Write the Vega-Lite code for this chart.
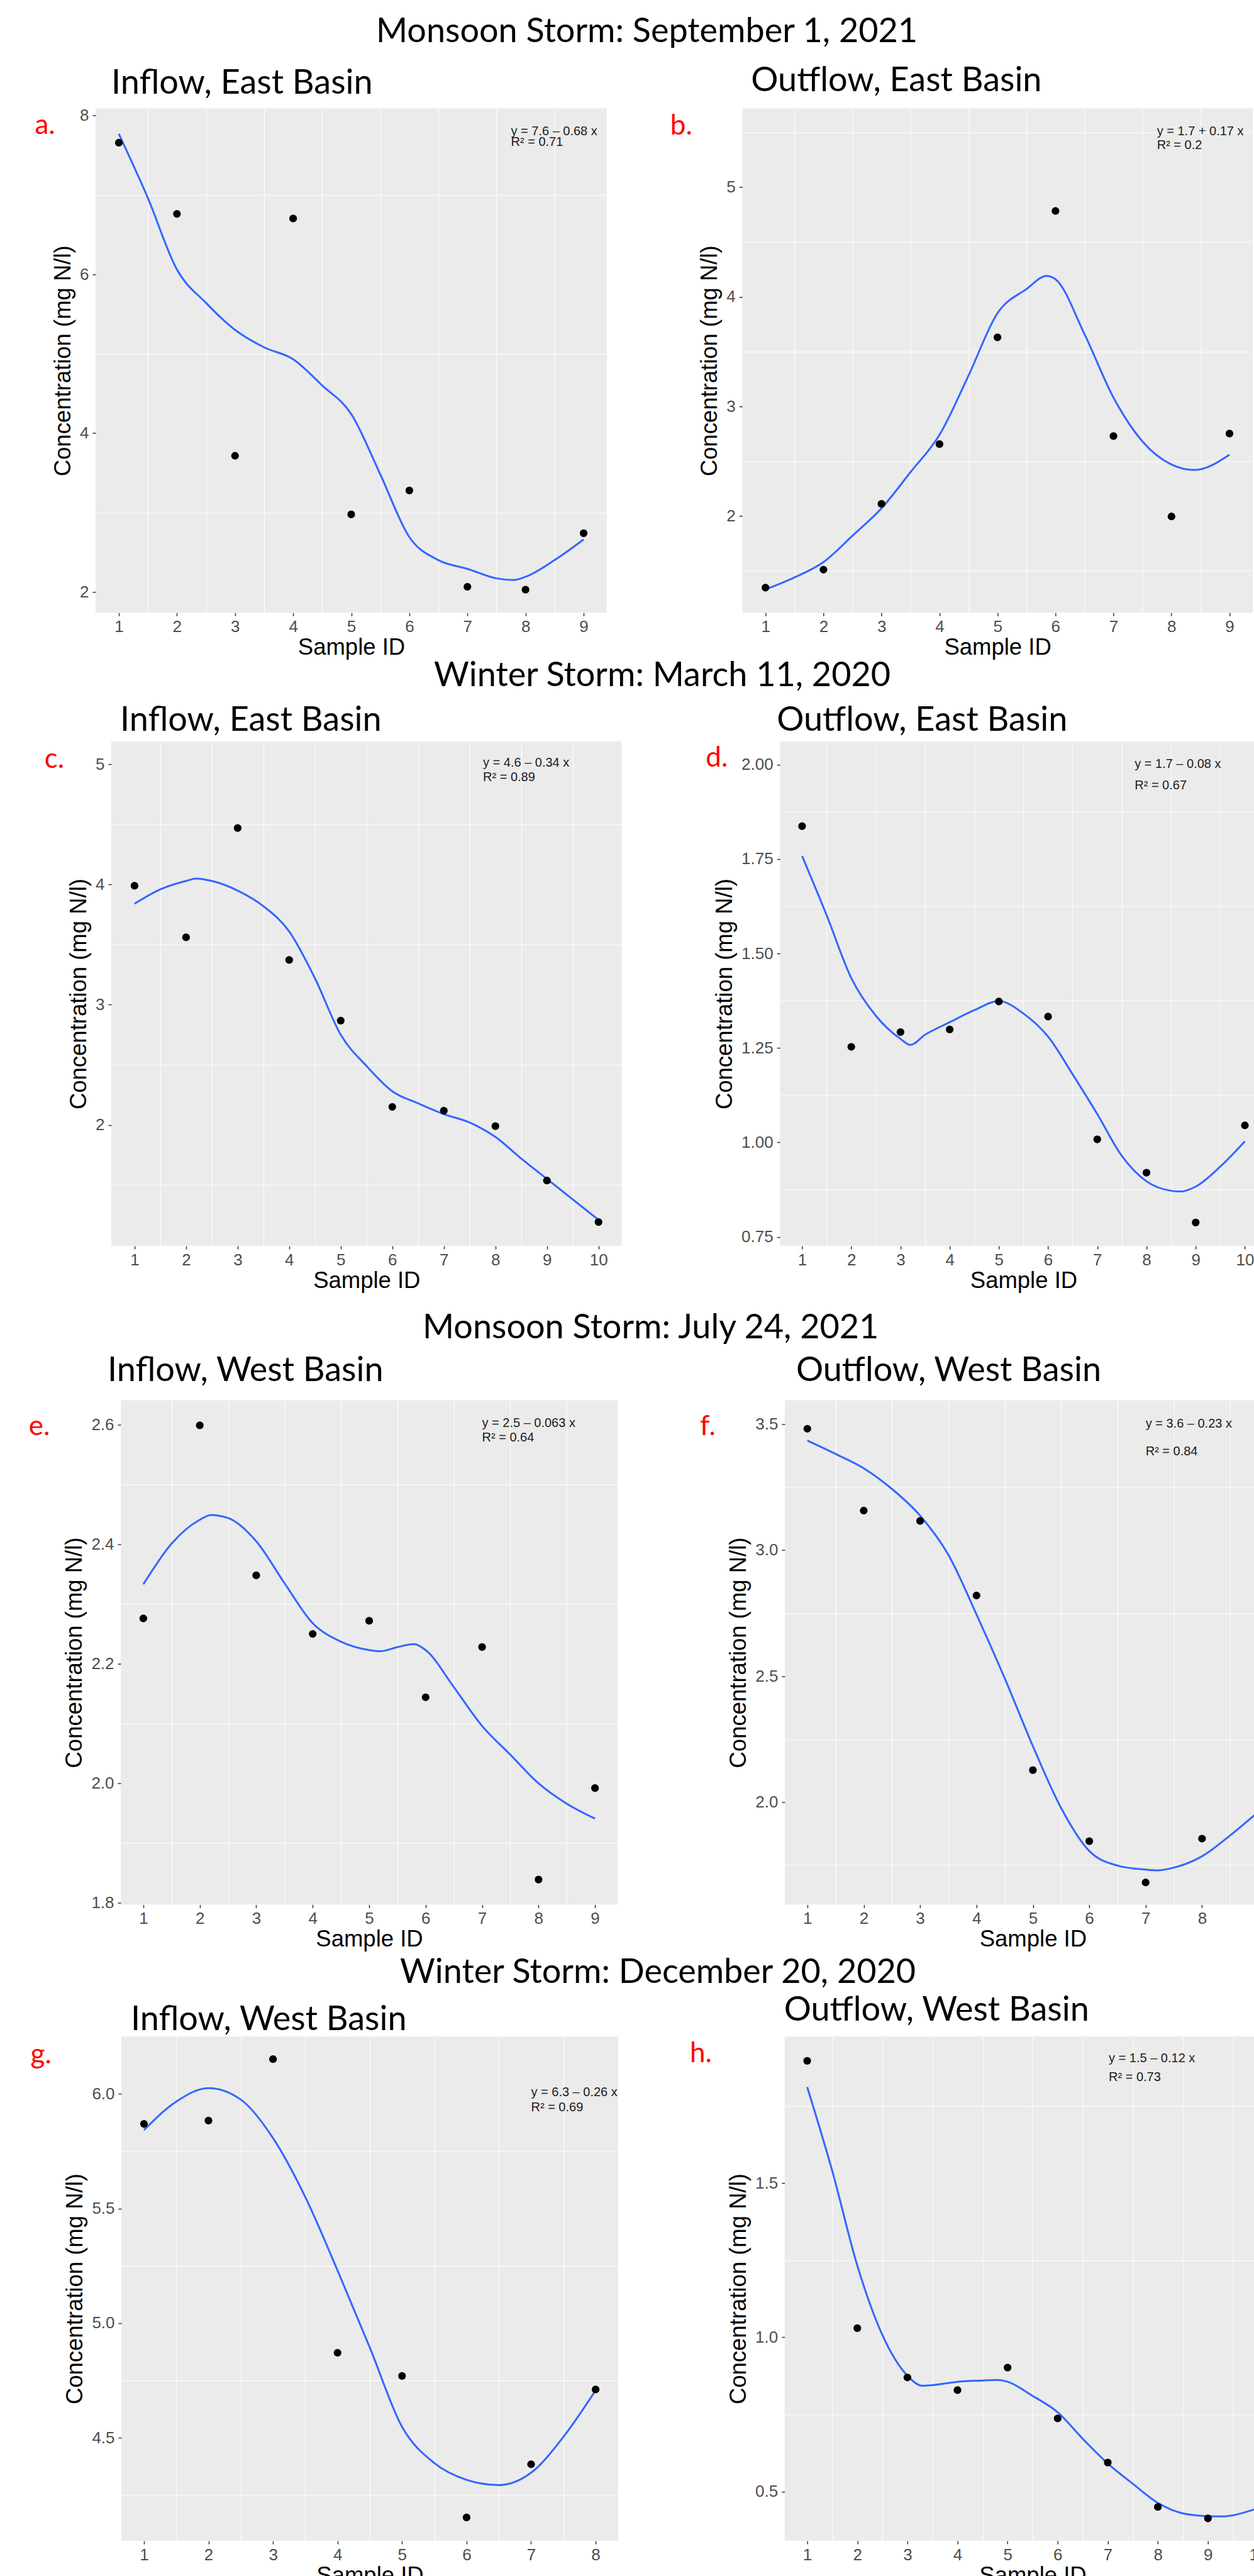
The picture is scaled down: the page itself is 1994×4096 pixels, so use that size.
{
"$schema": "https://vega.github.io/schema/vega-lite/v6.json",
"background": "white",
"padding": {"left": 0, "top": 23.3, "right": 0, "bottom": 0},
"config": {
  "view": {"fill": "#EBEBEB", "stroke": null},
  "axis": {"domain": false, "grid": true, "gridColor": "#FFFFFF", "gridWidth": 2, "tickColor": "#333333", "tickSize": 5, "tickWidth": 1.5, "labelFont": "Liberation Sans", "labelFontSize": 26, "labelColor": "#4D4D4D", "titleFont": "Liberation Sans", "titleFontSize": 36.5, "titleFontWeight": "normal", "titleColor": "#000000", "labelOverlap": false},
  "axisX": {"labelPadding": 4, "titlePadding": 2, "labelFlush": false},
  "axisY": {"labelPadding": 6, "titlePadding": 7},
  "title": {"font": "Lato", "fontSize": 54, "fontWeight": "normal", "color": "#000000"}
},
"datasets": {
  "pts": [
    {"p":"a","x":1,"y":7.657},{"p":"a","x":2,"y":6.761},{"p":"a","x":3,"y":3.714},{"p":"a","x":4,"y":6.703},{"p":"a","x":5,"y":2.976},{"p":"a","x":6,"y":3.277},{"p":"a","x":7,"y":2.064},{"p":"a","x":8,"y":2.027},{"p":"a","x":9,"y":2.739},
    {"p":"b","x":1,"y":1.347},{"p":"b","x":2,"y":1.511},{"p":"b","x":3,"y":2.111},{"p":"b","x":4,"y":2.656},{"p":"b","x":5,"y":3.630},{"p":"b","x":6,"y":4.782},{"p":"b","x":7,"y":2.729},{"p":"b","x":8,"y":1.996},{"p":"b","x":9,"y":2.752},
    {"p":"c","x":1,"y":3.990},{"p":"c","x":2,"y":3.561},{"p":"c","x":3,"y":4.470},{"p":"c","x":4,"y":3.373},{"p":"c","x":5,"y":2.868},{"p":"c","x":6,"y":2.150},{"p":"c","x":7,"y":2.118},{"p":"c","x":8,"y":1.990},{"p":"c","x":9,"y":1.537},{"p":"c","x":10,"y":1.192},
    {"p":"d","x":1,"y":1.837},{"p":"d","x":2,"y":1.253},{"p":"d","x":3,"y":1.292},{"p":"d","x":4,"y":1.299},{"p":"d","x":5,"y":1.373},{"p":"d","x":6,"y":1.333},{"p":"d","x":7,"y":1.008},{"p":"d","x":8,"y":0.920},{"p":"d","x":9,"y":0.788},{"p":"d","x":10,"y":1.045},
    {"p":"e","x":1,"y":2.276},{"p":"e","x":2,"y":2.599},{"p":"e","x":3,"y":2.348},{"p":"e","x":4,"y":2.250},{"p":"e","x":5,"y":2.272},{"p":"e","x":6,"y":2.144},{"p":"e","x":7,"y":2.228},{"p":"e","x":8,"y":1.839},{"p":"e","x":9,"y":1.992},
    {"p":"f","x":1,"y":3.482},{"p":"f","x":2,"y":3.157},{"p":"f","x":3,"y":3.116},{"p":"f","x":4,"y":2.820},{"p":"f","x":5,"y":2.127},{"p":"f","x":6,"y":1.845},{"p":"f","x":7,"y":1.681},{"p":"f","x":8,"y":1.855},{"p":"f","x":9,"y":1.940},
    {"p":"g","x":1,"y":5.869},{"p":"g","x":2,"y":5.883},{"p":"g","x":3,"y":6.151},{"p":"g","x":4,"y":4.871},{"p":"g","x":5,"y":4.770},{"p":"g","x":6,"y":4.153},{"p":"g","x":7,"y":4.385},{"p":"g","x":8,"y":4.711},
    {"p":"h","x":1,"y":1.897},{"p":"h","x":2,"y":1.030},{"p":"h","x":3,"y":0.870},{"p":"h","x":4,"y":0.829},{"p":"h","x":5,"y":0.902},{"p":"h","x":6,"y":0.737},{"p":"h","x":7,"y":0.594},{"p":"h","x":8,"y":0.450},{"p":"h","x":9,"y":0.413},{"p":"h","x":10,"y":0.447}
  ],
  "fit": [
    {"p":"a","x":1,"y":7.77},{"p":"a","x":1.5,"y":6.96},{"p":"a","x":2,"y":6.06},{"p":"a","x":2.5,"y":5.64},{"p":"a","x":3,"y":5.30},{"p":"a","x":3.5,"y":5.08},{"p":"a","x":4,"y":4.93},{"p":"a","x":4.5,"y":4.60},{"p":"a","x":5,"y":4.24},{"p":"a","x":5.5,"y":3.48},{"p":"a","x":6,"y":2.69},{"p":"a","x":6.5,"y":2.40},{"p":"a","x":7,"y":2.29},{"p":"a","x":7.5,"y":2.17},{"p":"a","x":7.8,"y":2.15},{"p":"a","x":8,"y":2.19},{"p":"a","x":8.5,"y":2.40},{"p":"a","x":9,"y":2.66},
    {"p":"b","x":1,"y":1.33},{"p":"b","x":1.5,"y":1.44},{"p":"b","x":2,"y":1.58},{"p":"b","x":2.5,"y":1.82},{"p":"b","x":3,"y":2.07},{"p":"b","x":3.5,"y":2.40},{"p":"b","x":4,"y":2.74},{"p":"b","x":4.5,"y":3.28},{"p":"b","x":5,"y":3.85},{"p":"b","x":5.5,"y":4.07},{"p":"b","x":5.85,"y":4.19},{"p":"b","x":6,"y":4.16},{"p":"b","x":6.5,"y":3.66},{"p":"b","x":7,"y":3.08},{"p":"b","x":7.5,"y":2.68},{"p":"b","x":8,"y":2.47},{"p":"b","x":8.4,"y":2.42},{"p":"b","x":9,"y":2.56},
    {"p":"c","x":1,"y":3.84},{"p":"c","x":1.5,"y":3.96},{"p":"c","x":2,"y":4.03},{"p":"c","x":2.2,"y":4.05},{"p":"c","x":2.5,"y":4.03},{"p":"c","x":3,"y":3.95},{"p":"c","x":3.5,"y":3.82},{"p":"c","x":4,"y":3.61},{"p":"c","x":4.5,"y":3.22},{"p":"c","x":5,"y":2.75},{"p":"c","x":5.5,"y":2.49},{"p":"c","x":6,"y":2.28},{"p":"c","x":6.5,"y":2.18},{"p":"c","x":7,"y":2.09},{"p":"c","x":7.5,"y":2.02},{"p":"c","x":8,"y":1.90},{"p":"c","x":8.5,"y":1.72},{"p":"c","x":9,"y":1.55},{"p":"c","x":9.5,"y":1.38},{"p":"c","x":10,"y":1.21},
    {"p":"d","x":1,"y":1.758},{"p":"d","x":1.5,"y":1.601},{"p":"d","x":2,"y":1.435},{"p":"d","x":2.5,"y":1.335},{"p":"d","x":3,"y":1.274},{"p":"d","x":3.2,"y":1.258},{"p":"d","x":3.5,"y":1.285},{"p":"d","x":4,"y":1.318},{"p":"d","x":4.5,"y":1.350},{"p":"d","x":5,"y":1.374},{"p":"d","x":5.5,"y":1.341},{"p":"d","x":6,"y":1.280},{"p":"d","x":6.5,"y":1.180},{"p":"d","x":7,"y":1.075},{"p":"d","x":7.5,"y":0.964},{"p":"d","x":8,"y":0.897},{"p":"d","x":8.5,"y":0.872},{"p":"d","x":8.7,"y":0.870},{"p":"d","x":9,"y":0.883},{"p":"d","x":9.5,"y":0.936},{"p":"d","x":10,"y":1.003},
    {"p":"e","x":1,"y":2.333},{"p":"e","x":1.5,"y":2.401},{"p":"e","x":2,"y":2.441},{"p":"e","x":2.2,"y":2.449},{"p":"e","x":2.5,"y":2.444},{"p":"e","x":3,"y":2.405},{"p":"e","x":3.5,"y":2.335},{"p":"e","x":4,"y":2.268},{"p":"e","x":4.5,"y":2.237},{"p":"e","x":5,"y":2.223},{"p":"e","x":5.2,"y":2.221},{"p":"e","x":5.5,"y":2.228},{"p":"e","x":5.8,"y":2.233},{"p":"e","x":6,"y":2.223},{"p":"e","x":6.5,"y":2.161},{"p":"e","x":7,"y":2.096},{"p":"e","x":7.5,"y":2.048},{"p":"e","x":8,"y":2.000},{"p":"e","x":8.5,"y":1.966},{"p":"e","x":9,"y":1.941},
    {"p":"f","x":1,"y":3.435},{"p":"f","x":1.5,"y":3.382},{"p":"f","x":2,"y":3.325},{"p":"f","x":2.5,"y":3.243},{"p":"f","x":3,"y":3.137},{"p":"f","x":3.5,"y":2.982},{"p":"f","x":4,"y":2.745},{"p":"f","x":4.5,"y":2.492},{"p":"f","x":5,"y":2.222},{"p":"f","x":5.5,"y":1.977},{"p":"f","x":6,"y":1.806},{"p":"f","x":6.5,"y":1.748},{"p":"f","x":7,"y":1.732},{"p":"f","x":7.2,"y":1.729},{"p":"f","x":7.5,"y":1.740},{"p":"f","x":8,"y":1.785},{"p":"f","x":8.5,"y":1.868},{"p":"f","x":9,"y":1.962},
    {"p":"g","x":1,"y":5.842},{"p":"g","x":1.5,"y":5.966},{"p":"g","x":2,"y":6.025},{"p":"g","x":2.5,"y":5.975},{"p":"g","x":3,"y":5.807},{"p":"g","x":3.5,"y":5.550},{"p":"g","x":4,"y":5.230},{"p":"g","x":4.5,"y":4.894},{"p":"g","x":5,"y":4.548},{"p":"g","x":5.5,"y":4.390},{"p":"g","x":6,"y":4.317},{"p":"g","x":6.5,"y":4.294},{"p":"g","x":7,"y":4.348},{"p":"g","x":7.5,"y":4.504},{"p":"g","x":8,"y":4.707},
    {"p":"h","x":1,"y":1.812},{"p":"h","x":1.5,"y":1.540},{"p":"h","x":2,"y":1.233},{"p":"h","x":2.5,"y":1.008},{"p":"h","x":3,"y":0.876},{"p":"h","x":3.3,"y":0.843},{"p":"h","x":3.5,"y":0.845},{"p":"h","x":4,"y":0.856},{"p":"h","x":4.5,"y":0.860},{"p":"h","x":4.8,"y":0.862},{"p":"h","x":5,"y":0.856},{"p":"h","x":5.5,"y":0.810},{"p":"h","x":6,"y":0.757},{"p":"h","x":6.5,"y":0.671},{"p":"h","x":7,"y":0.591},{"p":"h","x":7.5,"y":0.525},{"p":"h","x":8,"y":0.463},{"p":"h","x":8.5,"y":0.429},{"p":"h","x":9,"y":0.420},{"p":"h","x":9.3,"y":0.419},{"p":"h","x":9.5,"y":0.423},{"p":"h","x":10,"y":0.446}
  ],
  "eq": [
    {"p":"a","x":7.75,"y":7.80,"t":"y = 7.6 – 0.68 x"},{"p":"a","x":7.75,"y":7.668,"t":"R² = 0.71"},
    {"p":"b","x":7.75,"y":5.508,"t":"y = 1.7 + 0.17 x"},{"p":"b","x":7.75,"y":5.382,"t":"R² = 0.2"},
    {"p":"c","x":7.76,"y":5.01,"t":"y = 4.6 – 0.34 x"},{"p":"c","x":7.76,"y":4.89,"t":"R² = 0.89"},
    {"p":"d","x":7.76,"y":2.002,"t":"y = 1.7 – 0.08 x"},{"p":"d","x":7.76,"y":1.945,"t":"R² = 0.67"},
    {"p":"e","x":7.0,"y":2.603,"t":"y = 2.5 – 0.063 x"},{"p":"e","x":7.0,"y":2.578,"t":"R² = 0.64"},
    {"p":"f","x":7.0,"y":3.502,"t":"y = 3.6 – 0.23 x"},{"p":"f","x":7.0,"y":3.391,"t":"R² = 0.84"},
    {"p":"g","x":7.0,"y":6.007,"t":"y = 6.3 – 0.26 x"},{"p":"g","x":7.0,"y":5.940,"t":"R² = 0.69"},
    {"p":"h","x":7.02,"y":1.905,"t":"y = 1.5 – 0.12 x"},{"p":"h","x":7.02,"y":1.844,"t":"R² = 0.73"}
  ],
  "lab": [
    {"p":"a","x":-0.4456,"y":7.77,"t":"a."},
    {"p":"b","x":-0.6415,"y":5.477,"t":"b."},
    {"p":"c","x":-0.7454,"y":4.972,"t":"c."},
    {"p":"d","x":-0.957,"y":1.994,"t":"d."},
    {"p":"e","x":-1.0297,"y":2.583,"t":"e."},
    {"p":"f","x":-0.9046,"y":3.456,"t":"f."},
    {"p":"g","x":-0.7574,"y":6.131,"t":"g."},
    {"p":"h","x":-1.343,"y":1.892,"t":"h."}
  ]
},
"vconcat": [
 {"vconcat": [
  {"vconcat": [
   {"hconcat": [
    {"width": 54.1, "height": 10, "data": {"values": []}, "mark": "point", "view": {"fill": null, "stroke": null}},
    {"hconcat": [
    {"width": 813, "height": 802,
     "title": {"text": "Inflow, East Basin", "anchor": "start", "frame": "group", "dx": 25, "offset": 11},
     "resolve": {"axis": {"x": "independent", "y": "independent"}},
     "layer": [
      {"data": {"name": "fit"}, "transform": [{"filter": "datum.p == 'a'"}],
       "mark": {"type": "line", "color": "#3366FF", "strokeWidth": 3, "interpolate": "monotone"},
       "encoding": {
        "x": {"field": "x", "type": "quantitative", "scale": {"domain": [0.6, 9.4], "nice": false, "zero": false}, "axis": {"orient": "top", "values": [1.5,2.5,3.5,4.5,5.5,6.5,7.5,8.5], "title": null, "labels": false, "ticks": false, "domain": false, "gridWidth": 1, "minExtent": 0, "maxExtent": 0}},
        "y": {"field": "y", "type": "quantitative", "scale": {"domain": [1.737, 8.09], "nice": false, "zero": false}, "axis": {"orient": "right", "values": [3,5,7], "title": null, "labels": false, "ticks": false, "domain": false, "gridWidth": 1, "minExtent": 0, "maxExtent": 0}}}},
      {"data": {"name": "pts"}, "transform": [{"filter": "datum.p == 'a'"}],
       "mark": {"type": "circle", "size": 150, "color": "#000000", "opacity": 1},
       "encoding": {
        "x": {"field": "x", "type": "quantitative", "scale": {"domain": [0.6, 9.4], "nice": false, "zero": false}, "axis": {"orient": "bottom", "values": [1,2,3,4,5,6,7,8,9], "title": "Sample ID"}},
        "y": {"field": "y", "type": "quantitative", "scale": {"domain": [1.737, 8.09], "nice": false, "zero": false}, "axis": {"orient": "left", "values": [2,4,6,8], "title": "Concentration (mg N/l)"}}}},
      {"data": {"name": "eq"}, "transform": [{"filter": "datum.p == 'a'"}],
       "mark": {"type": "text", "align": "left", "baseline": "middle", "font": "Liberation Sans", "fontSize": 20, "color": "#1A1A1A"},
       "encoding": {
        "x": {"field": "x", "type": "quantitative", "scale": {"domain": [0.6, 9.4], "nice": false, "zero": false}, "axis": null},
        "y": {"field": "y", "type": "quantitative", "scale": {"domain": [1.737, 8.09], "nice": false, "zero": false}, "axis": null},
        "text": {"field": "t"}}},
      {"data": {"name": "lab"}, "transform": [{"filter": "datum.p == 'a'"}],
       "mark": {"type": "text", "align": "left", "baseline": "alphabetic", "font": "Lato", "fontSize": 44, "color": "#FF0000"},
       "encoding": {
        "x": {"field": "x", "type": "quantitative", "scale": {"domain": [0.6, 9.4], "nice": false, "zero": false}, "axis": null},
        "y": {"field": "y", "type": "quantitative", "scale": {"domain": [1.737, 8.09], "nice": false, "zero": false}, "axis": null},
        "text": {"field": "t"}}}
     ]},
    {"width": 811.6, "height": 802,
     "title": {"text": "Outflow, East Basin", "anchor": "start", "frame": "group", "dx": 14, "offset": 16.1},
     "resolve": {"axis": {"x": "independent", "y": "independent"}},
     "layer": [
      {"data": {"name": "fit"}, "transform": [{"filter": "datum.p == 'b'"}],
       "mark": {"type": "line", "color": "#3366FF", "strokeWidth": 3, "interpolate": "monotone"},
       "encoding": {
        "x": {"field": "x", "type": "quantitative", "scale": {"domain": [0.6, 9.4], "nice": false, "zero": false}, "axis": {"orient": "top", "values": [1.5,2.5,3.5,4.5,5.5,6.5,7.5,8.5], "title": null, "labels": false, "ticks": false, "domain": false, "gridWidth": 1, "minExtent": 0, "maxExtent": 0}},
        "y": {"field": "y", "type": "quantitative", "scale": {"domain": [1.118, 5.718], "nice": false, "zero": false}, "axis": {"orient": "right", "values": [1.5,2.5,3.5,4.5,5.5], "title": null, "labels": false, "ticks": false, "domain": false, "gridWidth": 1, "minExtent": 0, "maxExtent": 0}}}},
      {"data": {"name": "pts"}, "transform": [{"filter": "datum.p == 'b'"}],
       "mark": {"type": "circle", "size": 150, "color": "#000000", "opacity": 1},
       "encoding": {
        "x": {"field": "x", "type": "quantitative", "scale": {"domain": [0.6, 9.4], "nice": false, "zero": false}, "axis": {"orient": "bottom", "values": [1,2,3,4,5,6,7,8,9], "title": "Sample ID"}},
        "y": {"field": "y", "type": "quantitative", "scale": {"domain": [1.118, 5.718], "nice": false, "zero": false}, "axis": {"orient": "left", "values": [2,3,4,5], "title": "Concentration (mg N/l)"}}}},
      {"data": {"name": "eq"}, "transform": [{"filter": "datum.p == 'b'"}],
       "mark": {"type": "text", "align": "left", "baseline": "middle", "font": "Liberation Sans", "fontSize": 20, "color": "#1A1A1A"},
       "encoding": {
        "x": {"field": "x", "type": "quantitative", "scale": {"domain": [0.6, 9.4], "nice": false, "zero": false}, "axis": null},
        "y": {"field": "y", "type": "quantitative", "scale": {"domain": [1.118, 5.718], "nice": false, "zero": false}, "axis": null},
        "text": {"field": "t"}}},
      {"data": {"name": "lab"}, "transform": [{"filter": "datum.p == 'b'"}],
       "mark": {"type": "text", "align": "left", "baseline": "alphabetic", "font": "Lato", "fontSize": 44, "color": "#FF0000"},
       "encoding": {
        "x": {"field": "x", "type": "quantitative", "scale": {"domain": [0.6, 9.4], "nice": false, "zero": false}, "axis": null},
        "y": {"field": "y", "type": "quantitative", "scale": {"domain": [1.118, 5.718], "nice": false, "zero": false}, "axis": null},
        "text": {"field": "t"}}}
     ]}
    ], "spacing": 100.3, "bounds": "full"}
   ],
   "spacing": 0, "bounds": "full",
   "title": {"text": "Monsoon Storm: September 1, 2021", "anchor": "start", "frame": "group", "offset": 24.1, "dx": 598}},
   {"hconcat": [
    {"width": 70, "height": 10, "data": {"values": []}, "mark": "point", "view": {"fill": null, "stroke": null}},
    {"hconcat": [
    {"width": 811.6, "height": 802,
     "title": {"text": "Inflow, East Basin", "anchor": "start", "frame": "group", "dx": 14, "offset": 5.8},
     "resolve": {"axis": {"x": "independent", "y": "independent"}},
     "layer": [
      {"data": {"name": "fit"}, "transform": [{"filter": "datum.p == 'c'"}],
       "mark": {"type": "line", "color": "#3366FF", "strokeWidth": 3, "interpolate": "monotone"},
       "encoding": {
        "x": {"field": "x", "type": "quantitative", "scale": {"domain": [0.55, 10.45], "nice": false, "zero": false}, "axis": {"orient": "top", "values": [1.5,2.5,3.5,4.5,5.5,6.5,7.5,8.5,9.5], "title": null, "labels": false, "ticks": false, "domain": false, "gridWidth": 1, "minExtent": 0, "maxExtent": 0}},
        "y": {"field": "y", "type": "quantitative", "scale": {"domain": [0.993, 5.19], "nice": false, "zero": false}, "axis": {"orient": "right", "values": [1.5,2.5,3.5,4.5], "title": null, "labels": false, "ticks": false, "domain": false, "gridWidth": 1, "minExtent": 0, "maxExtent": 0}}}},
      {"data": {"name": "pts"}, "transform": [{"filter": "datum.p == 'c'"}],
       "mark": {"type": "circle", "size": 150, "color": "#000000", "opacity": 1},
       "encoding": {
        "x": {"field": "x", "type": "quantitative", "scale": {"domain": [0.55, 10.45], "nice": false, "zero": false}, "axis": {"orient": "bottom", "values": [1,2,3,4,5,6,7,8,9,10], "title": "Sample ID"}},
        "y": {"field": "y", "type": "quantitative", "scale": {"domain": [0.993, 5.19], "nice": false, "zero": false}, "axis": {"orient": "left", "values": [2,3,4,5], "title": "Concentration (mg N/l)"}}}},
      {"data": {"name": "eq"}, "transform": [{"filter": "datum.p == 'c'"}],
       "mark": {"type": "text", "align": "left", "baseline": "middle", "font": "Liberation Sans", "fontSize": 20, "color": "#1A1A1A"},
       "encoding": {
        "x": {"field": "x", "type": "quantitative", "scale": {"domain": [0.55, 10.45], "nice": false, "zero": false}, "axis": null},
        "y": {"field": "y", "type": "quantitative", "scale": {"domain": [0.993, 5.19], "nice": false, "zero": false}, "axis": null},
        "text": {"field": "t"}}},
      {"data": {"name": "lab"}, "transform": [{"filter": "datum.p == 'c'"}],
       "mark": {"type": "text", "align": "left", "baseline": "alphabetic", "font": "Lato", "fontSize": 44, "color": "#FF0000"},
       "encoding": {
        "x": {"field": "x", "type": "quantitative", "scale": {"domain": [0.55, 10.45], "nice": false, "zero": false}, "axis": null},
        "y": {"field": "y", "type": "quantitative", "scale": {"domain": [0.993, 5.19], "nice": false, "zero": false}, "axis": null},
        "text": {"field": "t"}}}
     ]},
    {"width": 774.5, "height": 802,
     "title": {"text": "Outflow, East Basin", "anchor": "start", "frame": "group", "dx": -5, "offset": 5.8},
     "resolve": {"axis": {"x": "independent", "y": "independent"}},
     "layer": [
      {"data": {"name": "fit"}, "transform": [{"filter": "datum.p == 'd'"}],
       "mark": {"type": "line", "color": "#3366FF", "strokeWidth": 3, "interpolate": "monotone"},
       "encoding": {
        "x": {"field": "x", "type": "quantitative", "scale": {"domain": [0.55, 10.45], "nice": false, "zero": false}, "axis": {"orient": "top", "values": [1.5,2.5,3.5,4.5,5.5,6.5,7.5,8.5,9.5], "title": null, "labels": false, "ticks": false, "domain": false, "gridWidth": 1, "minExtent": 0, "maxExtent": 0}},
        "y": {"field": "y", "type": "quantitative", "scale": {"domain": [0.726, 2.061], "nice": false, "zero": false}, "axis": {"orient": "right", "values": [0.875,1.125,1.375,1.625,1.875], "title": null, "labels": false, "ticks": false, "domain": false, "gridWidth": 1, "minExtent": 0, "maxExtent": 0}}}},
      {"data": {"name": "pts"}, "transform": [{"filter": "datum.p == 'd'"}],
       "mark": {"type": "circle", "size": 150, "color": "#000000", "opacity": 1},
       "encoding": {
        "x": {"field": "x", "type": "quantitative", "scale": {"domain": [0.55, 10.45], "nice": false, "zero": false}, "axis": {"orient": "bottom", "values": [1,2,3,4,5,6,7,8,9,10], "title": "Sample ID"}},
        "y": {"field": "y", "type": "quantitative", "scale": {"domain": [0.726, 2.061], "nice": false, "zero": false}, "axis": {"orient": "left", "values": [0.75,1,1.25,1.5,1.75,2], "format": ".2f", "title": "Concentration (mg N/l)"}}}},
      {"data": {"name": "eq"}, "transform": [{"filter": "datum.p == 'd'"}],
       "mark": {"type": "text", "align": "left", "baseline": "middle", "font": "Liberation Sans", "fontSize": 20, "color": "#1A1A1A"},
       "encoding": {
        "x": {"field": "x", "type": "quantitative", "scale": {"domain": [0.55, 10.45], "nice": false, "zero": false}, "axis": null},
        "y": {"field": "y", "type": "quantitative", "scale": {"domain": [0.726, 2.061], "nice": false, "zero": false}, "axis": null},
        "text": {"field": "t"}}},
      {"data": {"name": "lab"}, "transform": [{"filter": "datum.p == 'd'"}],
       "mark": {"type": "text", "align": "left", "baseline": "alphabetic", "font": "Lato", "fontSize": 44, "color": "#FF0000"},
       "encoding": {
        "x": {"field": "x", "type": "quantitative", "scale": {"domain": [0.55, 10.45], "nice": false, "zero": false}, "axis": null},
        "y": {"field": "y", "type": "quantitative", "scale": {"domain": [0.726, 2.061], "nice": false, "zero": false}, "axis": null},
        "text": {"field": "t"}}}
     ]}
    ], "spacing": 133.2, "bounds": "full"}
   ],
   "spacing": 0, "bounds": "full",
   "title": {"text": "Winter Storm: March 11, 2020", "anchor": "start", "frame": "group", "offset": 17.6, "dx": 690}}
  ], "spacing": -1.2},
  {"hconcat": [
   {"width": 44.5, "height": 10, "data": {"values": []}, "mark": "point", "view": {"fill": null, "stroke": null}},
   {"hconcat": [
    {"width": 790, "height": 802,
     "title": {"text": "Inflow, West Basin", "anchor": "start", "frame": "group", "dx": -21, "offset": 19.4},
     "resolve": {"axis": {"x": "independent", "y": "independent"}},
     "layer": [
      {"data": {"name": "fit"}, "transform": [{"filter": "datum.p == 'e'"}],
       "mark": {"type": "line", "color": "#3366FF", "strokeWidth": 3, "interpolate": "monotone"},
       "encoding": {
        "x": {"field": "x", "type": "quantitative", "scale": {"domain": [0.6, 9.4], "nice": false, "zero": false}, "axis": {"orient": "top", "values": [1.5,2.5,3.5,4.5,5.5,6.5,7.5,8.5], "title": null, "labels": false, "ticks": false, "domain": false, "gridWidth": 1, "minExtent": 0, "maxExtent": 0}},
        "y": {"field": "y", "type": "quantitative", "scale": {"domain": [1.797, 2.641], "nice": false, "zero": false}, "axis": {"orient": "right", "values": [1.9,2.1,2.3,2.5], "title": null, "labels": false, "ticks": false, "domain": false, "gridWidth": 1, "minExtent": 0, "maxExtent": 0}}}},
      {"data": {"name": "pts"}, "transform": [{"filter": "datum.p == 'e'"}],
       "mark": {"type": "circle", "size": 150, "color": "#000000", "opacity": 1},
       "encoding": {
        "x": {"field": "x", "type": "quantitative", "scale": {"domain": [0.6, 9.4], "nice": false, "zero": false}, "axis": {"orient": "bottom", "values": [1,2,3,4,5,6,7,8,9], "title": "Sample ID"}},
        "y": {"field": "y", "type": "quantitative", "scale": {"domain": [1.797, 2.641], "nice": false, "zero": false}, "axis": {"orient": "left", "values": [1.8,2.0,2.2,2.4,2.6], "format": ".1f", "title": "Concentration (mg N/l)"}}}},
      {"data": {"name": "eq"}, "transform": [{"filter": "datum.p == 'e'"}],
       "mark": {"type": "text", "align": "left", "baseline": "middle", "font": "Liberation Sans", "fontSize": 20, "color": "#1A1A1A"},
       "encoding": {
        "x": {"field": "x", "type": "quantitative", "scale": {"domain": [0.6, 9.4], "nice": false, "zero": false}, "axis": null},
        "y": {"field": "y", "type": "quantitative", "scale": {"domain": [1.797, 2.641], "nice": false, "zero": false}, "axis": null},
        "text": {"field": "t"}}},
      {"data": {"name": "lab"}, "transform": [{"filter": "datum.p == 'e'"}],
       "mark": {"type": "text", "align": "left", "baseline": "alphabetic", "font": "Lato", "fontSize": 44, "color": "#FF0000"},
       "encoding": {
        "x": {"field": "x", "type": "quantitative", "scale": {"domain": [0.6, 9.4], "nice": false, "zero": false}, "axis": null},
        "y": {"field": "y", "type": "quantitative", "scale": {"domain": [1.797, 2.641], "nice": false, "zero": false}, "axis": null},
        "text": {"field": "t"}}}
     ]},
    {"width": 789, "height": 802,
     "title": {"text": "Outflow, West Basin", "anchor": "start", "frame": "group", "dx": 18, "offset": 19.4},
     "resolve": {"axis": {"x": "independent", "y": "independent"}},
     "layer": [
      {"data": {"name": "fit"}, "transform": [{"filter": "datum.p == 'f'"}],
       "mark": {"type": "line", "color": "#3366FF", "strokeWidth": 3, "interpolate": "monotone"},
       "encoding": {
        "x": {"field": "x", "type": "quantitative", "scale": {"domain": [0.6, 9.4], "nice": false, "zero": false}, "axis": {"orient": "top", "values": [1.5,2.5,3.5,4.5,5.5,6.5,7.5,8.5], "title": null, "labels": false, "ticks": false, "domain": false, "gridWidth": 1, "minExtent": 0, "maxExtent": 0}},
        "y": {"field": "y", "type": "quantitative", "scale": {"domain": [1.593, 3.595], "nice": false, "zero": false}, "axis": {"orient": "right", "values": [1.75,2.25,2.75,3.25], "title": null, "labels": false, "ticks": false, "domain": false, "gridWidth": 1, "minExtent": 0, "maxExtent": 0}}}},
      {"data": {"name": "pts"}, "transform": [{"filter": "datum.p == 'f'"}],
       "mark": {"type": "circle", "size": 150, "color": "#000000", "opacity": 1},
       "encoding": {
        "x": {"field": "x", "type": "quantitative", "scale": {"domain": [0.6, 9.4], "nice": false, "zero": false}, "axis": {"orient": "bottom", "values": [1,2,3,4,5,6,7,8,9], "title": "Sample ID"}},
        "y": {"field": "y", "type": "quantitative", "scale": {"domain": [1.593, 3.595], "nice": false, "zero": false}, "axis": {"orient": "left", "values": [2.0,2.5,3.0,3.5], "format": ".1f", "title": "Concentration (mg N/l)"}}}},
      {"data": {"name": "eq"}, "transform": [{"filter": "datum.p == 'f'"}],
       "mark": {"type": "text", "align": "left", "baseline": "middle", "font": "Liberation Sans", "fontSize": 20, "color": "#1A1A1A"},
       "encoding": {
        "x": {"field": "x", "type": "quantitative", "scale": {"domain": [0.6, 9.4], "nice": false, "zero": false}, "axis": null},
        "y": {"field": "y", "type": "quantitative", "scale": {"domain": [1.593, 3.595], "nice": false, "zero": false}, "axis": null},
        "text": {"field": "t"}}},
      {"data": {"name": "lab"}, "transform": [{"filter": "datum.p == 'f'"}],
       "mark": {"type": "text", "align": "left", "baseline": "alphabetic", "font": "Lato", "fontSize": 44, "color": "#FF0000"},
       "encoding": {
        "x": {"field": "x", "type": "quantitative", "scale": {"domain": [0.6, 9.4], "nice": false, "zero": false}, "axis": null},
        "y": {"field": "y", "type": "quantitative", "scale": {"domain": [1.593, 3.595], "nice": false, "zero": false}, "axis": null},
        "text": {"field": "t"}}}
     ]}
   ], "spacing": 130.9, "bounds": "full"}
  ],
  "spacing": 0, "bounds": "full",
  "title": {"text": "Monsoon Storm: July 24, 2021", "anchor": "start", "frame": "group", "offset": 14.2, "dx": 672}}
 ], "spacing": 29.2},
 {"hconcat": [
  {"width": 47.7, "height": 10, "data": {"values": []}, "mark": "point", "view": {"fill": null, "stroke": null}},
  {"hconcat": [
    {"width": 790, "height": 802,
     "title": {"text": "Inflow, West Basin", "anchor": "start", "frame": "group", "dx": 15, "offset": -0.8},
     "resolve": {"axis": {"x": "independent", "y": "independent"}},
     "layer": [
      {"data": {"name": "fit"}, "transform": [{"filter": "datum.p == 'g'"}],
       "mark": {"type": "line", "color": "#3366FF", "strokeWidth": 3, "interpolate": "monotone"},
       "encoding": {
        "x": {"field": "x", "type": "quantitative", "scale": {"domain": [0.65, 8.35], "nice": false, "zero": false}, "axis": {"orient": "top", "values": [1.5,2.5,3.5,4.5,5.5,6.5,7.5], "title": null, "labels": false, "ticks": false, "domain": false, "gridWidth": 1, "minExtent": 0, "maxExtent": 0}},
        "y": {"field": "y", "type": "quantitative", "scale": {"domain": [4.051, 6.25], "nice": false, "zero": false}, "axis": {"orient": "right", "values": [4.25,4.75,5.25,5.75], "title": null, "labels": false, "ticks": false, "domain": false, "gridWidth": 1, "minExtent": 0, "maxExtent": 0}}}},
      {"data": {"name": "pts"}, "transform": [{"filter": "datum.p == 'g'"}],
       "mark": {"type": "circle", "size": 150, "color": "#000000", "opacity": 1},
       "encoding": {
        "x": {"field": "x", "type": "quantitative", "scale": {"domain": [0.65, 8.35], "nice": false, "zero": false}, "axis": {"orient": "bottom", "values": [1,2,3,4,5,6,7,8], "title": "Sample ID"}},
        "y": {"field": "y", "type": "quantitative", "scale": {"domain": [4.051, 6.25], "nice": false, "zero": false}, "axis": {"orient": "left", "values": [4.5,5.0,5.5,6.0], "format": ".1f", "title": "Concentration (mg N/l)"}}}},
      {"data": {"name": "eq"}, "transform": [{"filter": "datum.p == 'g'"}],
       "mark": {"type": "text", "align": "left", "baseline": "middle", "font": "Liberation Sans", "fontSize": 20, "color": "#1A1A1A"},
       "encoding": {
        "x": {"field": "x", "type": "quantitative", "scale": {"domain": [0.65, 8.35], "nice": false, "zero": false}, "axis": null},
        "y": {"field": "y", "type": "quantitative", "scale": {"domain": [4.051, 6.25], "nice": false, "zero": false}, "axis": null},
        "text": {"field": "t"}}},
      {"data": {"name": "lab"}, "transform": [{"filter": "datum.p == 'g'"}],
       "mark": {"type": "text", "align": "left", "baseline": "alphabetic", "font": "Lato", "fontSize": 44, "color": "#FF0000"},
       "encoding": {
        "x": {"field": "x", "type": "quantitative", "scale": {"domain": [0.65, 8.35], "nice": false, "zero": false}, "axis": null},
        "y": {"field": "y", "type": "quantitative", "scale": {"domain": [4.051, 6.25], "nice": false, "zero": false}, "axis": null},
        "text": {"field": "t"}}}
     ]},
    {"width": 788.6, "height": 802,
     "title": {"text": "Outflow, West Basin", "anchor": "start", "frame": "group", "dx": -1, "offset": 13.7},
     "resolve": {"axis": {"x": "independent", "y": "independent"}},
     "layer": [
      {"data": {"name": "fit"}, "transform": [{"filter": "datum.p == 'h'"}],
       "mark": {"type": "line", "color": "#3366FF", "strokeWidth": 3, "interpolate": "monotone"},
       "encoding": {
        "x": {"field": "x", "type": "quantitative", "scale": {"domain": [0.55, 10.45], "nice": false, "zero": false}, "axis": {"orient": "top", "values": [1.5,2.5,3.5,4.5,5.5,6.5,7.5,8.5,9.5], "title": null, "labels": false, "ticks": false, "domain": false, "gridWidth": 1, "minExtent": 0, "maxExtent": 0}},
        "y": {"field": "y", "type": "quantitative", "scale": {"domain": [0.34, 1.976], "nice": false, "zero": false}, "axis": {"orient": "right", "values": [0.75,1.25,1.75], "title": null, "labels": false, "ticks": false, "domain": false, "gridWidth": 1, "minExtent": 0, "maxExtent": 0}}}},
      {"data": {"name": "pts"}, "transform": [{"filter": "datum.p == 'h'"}],
       "mark": {"type": "circle", "size": 150, "color": "#000000", "opacity": 1},
       "encoding": {
        "x": {"field": "x", "type": "quantitative", "scale": {"domain": [0.55, 10.45], "nice": false, "zero": false}, "axis": {"orient": "bottom", "values": [1,2,3,4,5,6,7,8,9,10], "title": "Sample ID"}},
        "y": {"field": "y", "type": "quantitative", "scale": {"domain": [0.34, 1.976], "nice": false, "zero": false}, "axis": {"orient": "left", "values": [0.5,1.0,1.5], "format": ".1f", "title": "Concentration (mg N/l)"}}}},
      {"data": {"name": "eq"}, "transform": [{"filter": "datum.p == 'h'"}],
       "mark": {"type": "text", "align": "left", "baseline": "middle", "font": "Liberation Sans", "fontSize": 20, "color": "#1A1A1A"},
       "encoding": {
        "x": {"field": "x", "type": "quantitative", "scale": {"domain": [0.55, 10.45], "nice": false, "zero": false}, "axis": null},
        "y": {"field": "y", "type": "quantitative", "scale": {"domain": [0.34, 1.976], "nice": false, "zero": false}, "axis": null},
        "text": {"field": "t"}}},
      {"data": {"name": "lab"}, "transform": [{"filter": "datum.p == 'h'"}],
       "mark": {"type": "text", "align": "left", "baseline": "alphabetic", "font": "Lato", "fontSize": 44, "color": "#FF0000"},
       "encoding": {
        "x": {"field": "x", "type": "quantitative", "scale": {"domain": [0.55, 10.45], "nice": false, "zero": false}, "axis": null},
        "y": {"field": "y", "type": "quantitative", "scale": {"domain": [0.34, 1.976], "nice": false, "zero": false}, "axis": null},
        "text": {"field": "t"}}}
     ]}
  ], "spacing": 113.7, "bounds": "full"}
 ],
 "spacing": 0, "bounds": "full",
 "title": {"text": "Winter Storm: December 20, 2020", "anchor": "start", "frame": "group", "offset": 6, "dx": 636}}
],
"spacing": 7.8
}
